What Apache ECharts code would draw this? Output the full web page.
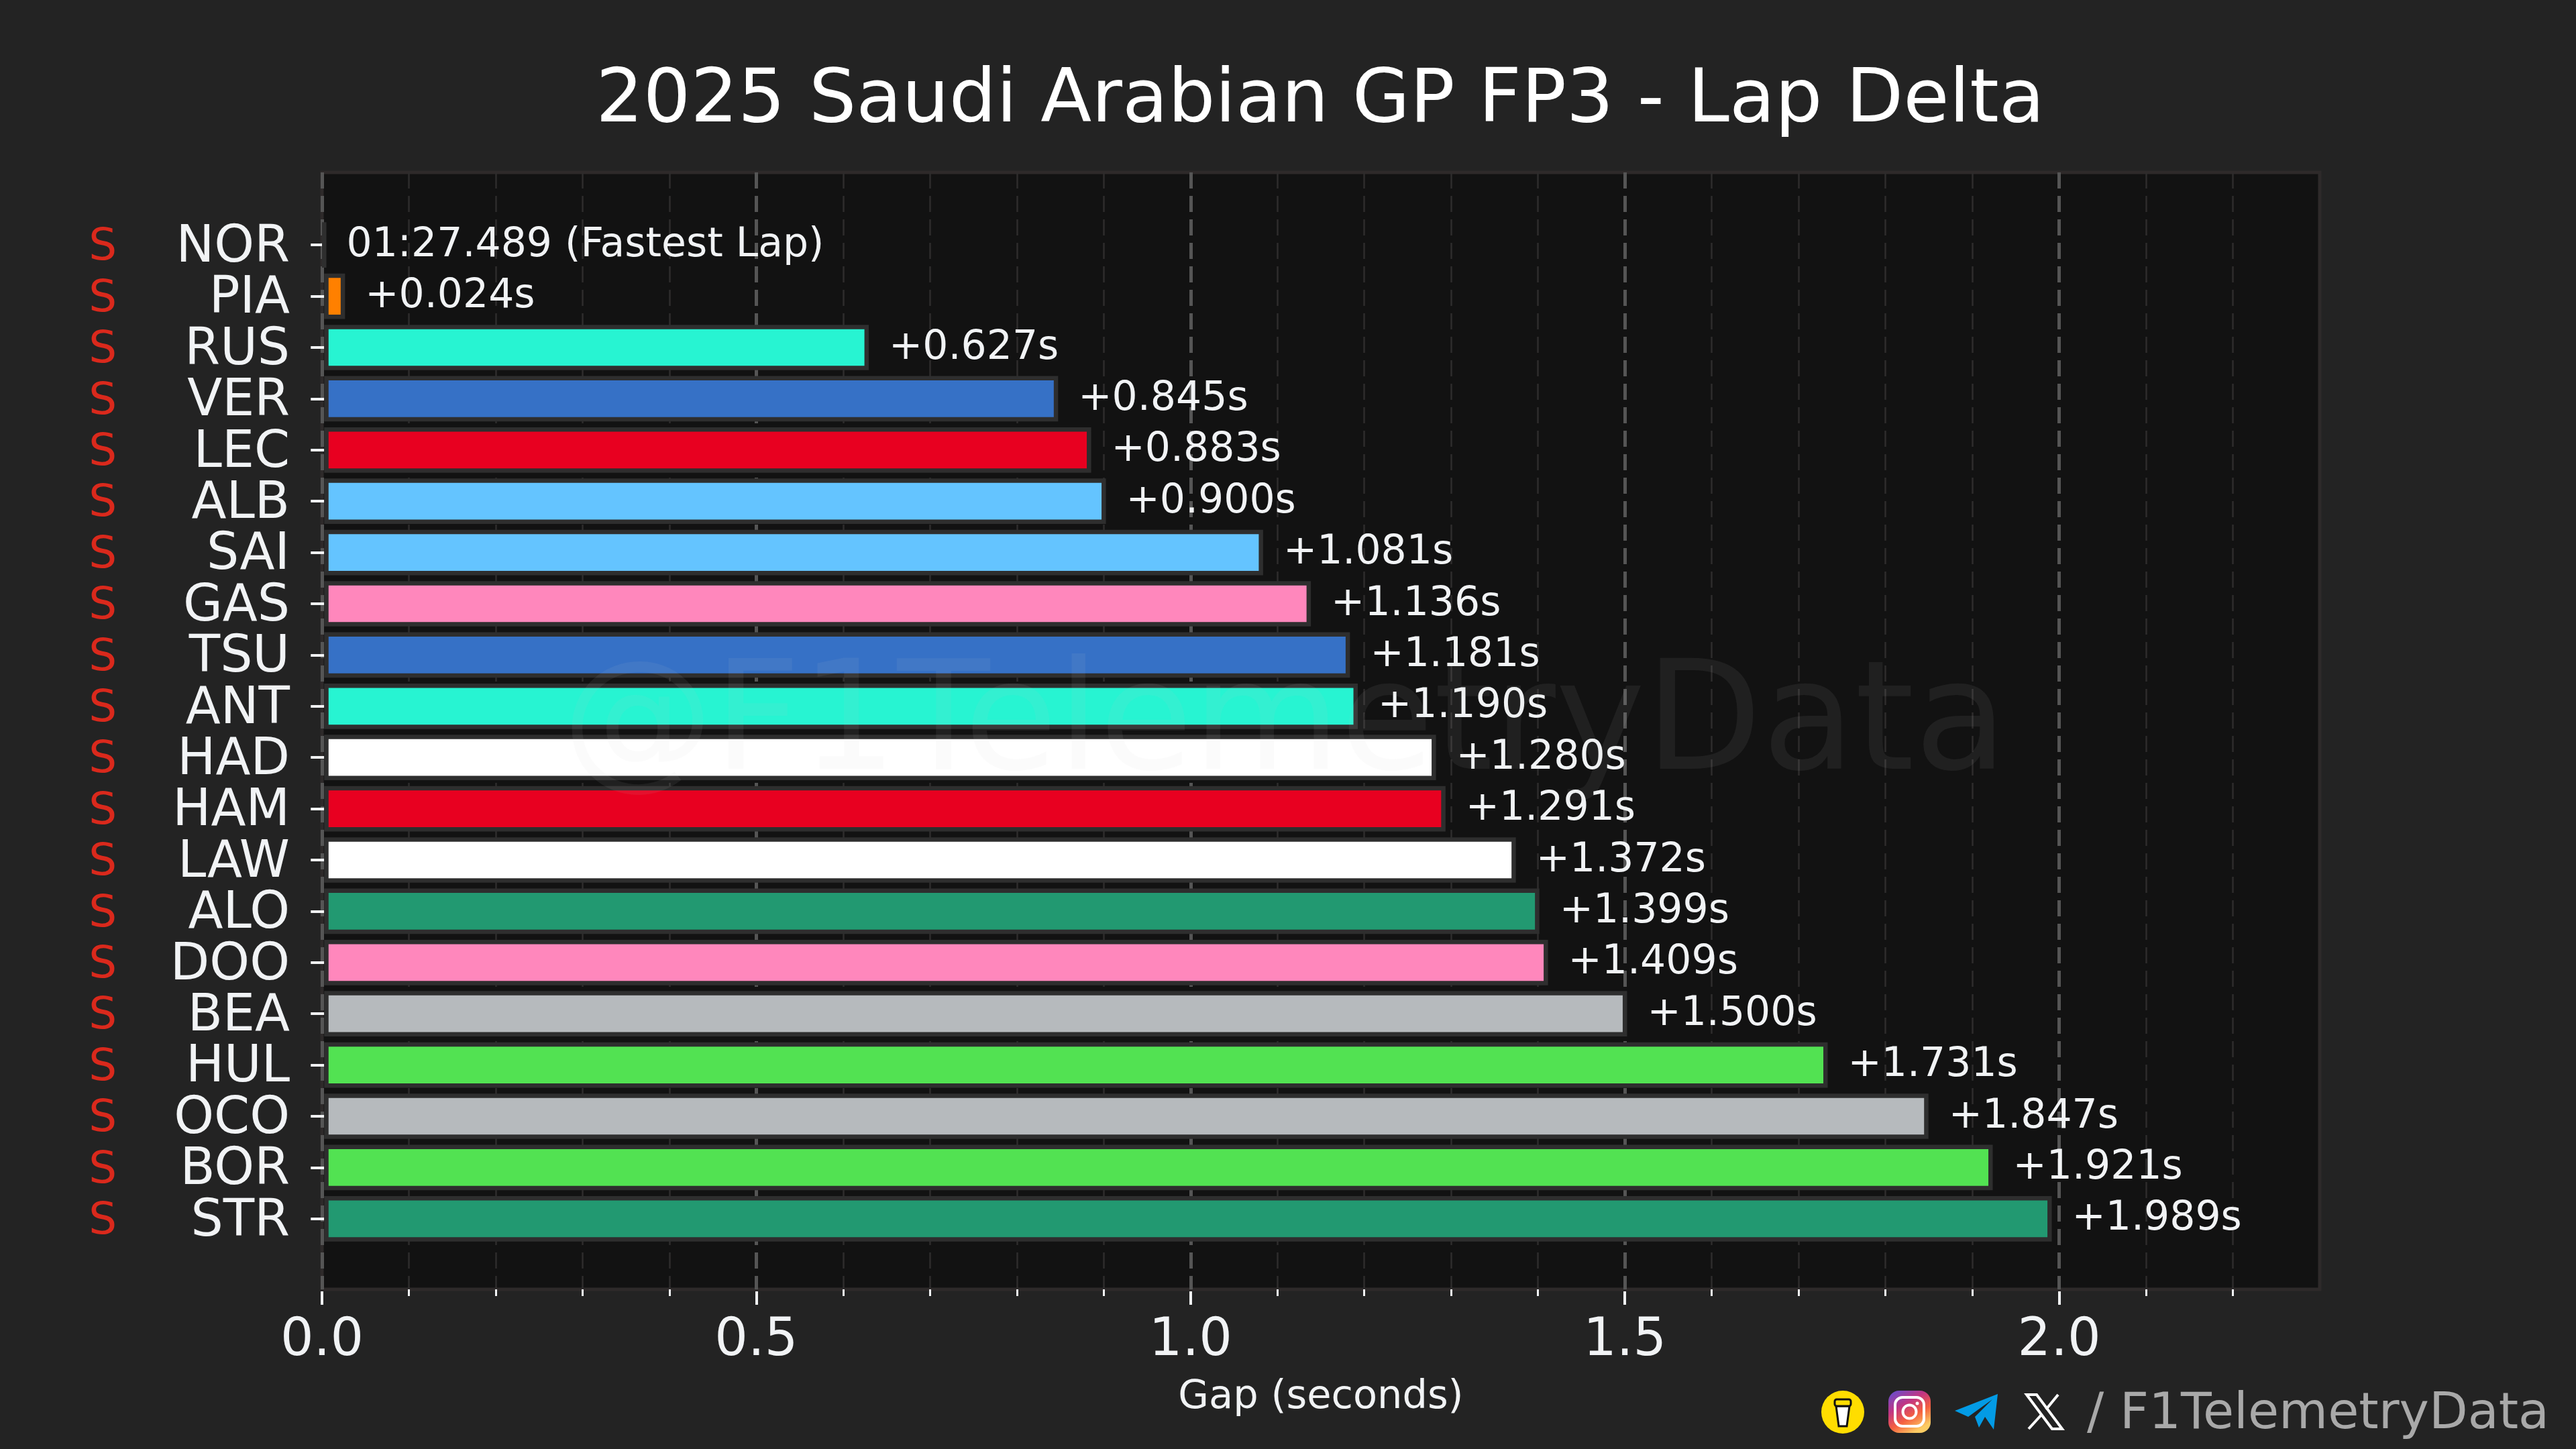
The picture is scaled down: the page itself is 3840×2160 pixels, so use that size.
<!DOCTYPE html>
<html>
<head>
<meta charset="utf-8">
<style>html,body{margin:0;padding:0;background:#232323}#c{width:3840px;height:2160px}</style>
<script src="https://cdn.jsdelivr.net/npm/echarts@6/dist/echarts.min.js"></script>
</head>
<body>
<div id="c"></div>
<script>
const drivers = ['NOR','PIA','RUS','VER','LEC','ALB','SAI','GAS','TSU','ANT','HAD','HAM','LAW','ALO','DOO','BEA','HUL','OCO','BOR','STR'];
const compounds = ['S','S','S','S','S','S','S','S','S','S','S','S','S','S','S','S','S','S','S','S'];
const gaps = [0,0.024,0.627,0.845,0.883,0.900,1.081,1.136,1.181,1.190,1.280,1.291,1.372,1.399,1.409,1.500,1.731,1.847,1.921,1.989];
const colors = ['#FF8000','#FF8000','#27F4D2','#3671C6','#E80020','#64C4FF','#64C4FF','#FF87BC','#3671C6','#27F4D2','#FFFFFF','#E80020','#FFFFFF','#229971','#FF87BC','#B6BABD','#52E252','#B6BABD','#52E252','#229971'];
const majorTicks = [0,0.5,1.0,1.5,2.0];
const minorTicks = [0.1,0.2,0.3,0.4,0.6,0.7,0.8,0.9,1.1,1.2,1.3,1.4,1.6,1.7,1.8,1.9,2.1,2.2];
const fastestLap = '01:27.489 (Fastest Lap)';
const titleText = '2025 Saudi Arabian GP FP3 - Lap Delta';
const xName = 'Gap (seconds)';
const handle = '/ F1TelemetryData';
const watermark = '@F1TelemetryData';

const FONT = '"DejaVu Sans"';
const INK = '#F1F3F5';
const xMin = 0, xMax = 2.3;

const chart = echarts.init(document.getElementById('c'), null, {renderer:'canvas'});
chart.setOption({
  animation:false,
  backgroundColor:'#232323',
  textStyle:{fontFamily:FONT},
  title:{
    text:titleText, left:1963, top:147, textAlign:'center', textVerticalAlign:'middle',
    textStyle:{color:'#FFFFFF', fontSize:111, fontWeight:'normal', fontFamily:FONT}
  },
  grid:[
    {left:480, right:382, top:257, bottom:238, show:true, backgroundColor:'#121212', borderColor:'#2E2A2A', borderWidth:5},
    {left:483.25, right:378.75, top:327, bottom:305}
  ],
  xAxis:[
    {gridIndex:0, type:'value', min:xMin, max:xMax, position:'bottom', offset:3,
     axisLine:{show:false},
     axisTick:{show:true, length:10, customValues:minorTicks, lineStyle:{color:'#F1F3F5', width:3}},
     axisLabel:{show:false},
     splitLine:{show:true, lineStyle:{color:'#2E2C2C', width:2.5, type:[24,11]}}},
    {gridIndex:0, type:'value', min:xMin, max:xMax, position:'bottom', offset:3,
     name:xName, nameLocation:'middle', nameGap:129,
     nameTextStyle:{color:INK, fontSize:59, fontFamily:FONT},
     axisLine:{show:false},
     axisTick:{show:true, length:20, customValues:majorTicks, lineStyle:{color:'#F1F3F5', width:4}},
     axisLabel:{show:true, customValues:majorTicks, margin:36, color:INK, fontSize:78, fontFamily:FONT,
       formatter:v=>v.toFixed(1)},
     splitLine:{show:true, lineStyle:{color:'#555555', width:5, type:[24,11]}}},
    {gridIndex:1, type:'value', min:xMin, max:xMax, show:false}
  ],
  yAxis:[
    {gridIndex:0, type:'value', min:0, max:1, show:false},
    {gridIndex:1, type:'category', data:drivers, inverse:true, position:'left', offset:5.25,
     axisLine:{show:false},
     axisTick:{show:true, alignWithLabel:true, length:20, lineStyle:{color:'#F1F3F5', width:4}},
     axisLabel:{margin:46, color:INK, fontSize:76, fontFamily:FONT, interval:0, verticalAlign:'top', lineHeight:10},
     splitLine:{show:false}},
    {gridIndex:1, type:'category', data:compounds, inverse:true, position:'left', offset:0,
     axisLine:{show:false}, axisTick:{show:false},
     axisLabel:{margin:309, color:'#DA291C', fontSize:66, fontFamily:FONT, interval:0, verticalAlign:'top', lineHeight:10},
     splitLine:{show:false}}
  ],
  series:[{
    type:'bar', xAxisIndex:2, yAxisIndex:1, barWidth:67.7,
    data:gaps.map((v,i)=>({value:v, itemStyle:{color:colors[i]}})),
    itemStyle:{borderColor:'#2E2E2E', borderWidth:6.5},
    label:{show:true, position:'right', distance:30, offset:[0,1], color:INK, fontSize:60, fontFamily:FONT,
      formatter:p=>p.dataIndex===0 ? fastestLap : '+'+p.value.toFixed(3)+'s'},
    z:5
  }],
  graphic:[
    {type:'text', z:100, x:1915, y:1087, style:{text:watermark, fill:'rgba(200,200,200,0.08)', font:'226px '+FONT, textAlign:'center', textVerticalAlign:'middle'}},
    {type:'text', z:100, x:3800, y:2110, style:{text:handle, fill:'#A9A9A9', font:'75px '+FONT, textAlign:'right', textVerticalAlign:'middle'}},
    {type:'circle', z:100, shape:{cx:2747, cy:2105, r:32}, style:{fill:'#FFDD00'}},
    {type:'polygon', z:101, shape:{points:[[2737,2096],[2741,2126],[2753,2126],[2757,2096]]}, style:{fill:'#FFFFFF', stroke:'#111111', lineWidth:3}},
    {type:'rect', z:101, shape:{x:2735, y:2086, width:24, height:10, r:3}, style:{fill:'#FFDD00', stroke:'#111111', lineWidth:3}},
    {type:'rect', z:100, shape:{x:2815, y:2073, width:63, height:63, r:16}, style:{fill:new echarts.graphic.LinearGradient(0,0,0.6,1,[{offset:0,color:'#5B51D8'},{offset:0.4,color:'#C13584'},{offset:0.7,color:'#F56040'},{offset:1,color:'#FCCC63'}])}},
    {type:'rect', z:101, shape:{x:2825, y:2083, width:43, height:43, r:11}, style:{fill:'none', stroke:'#FFFFFF', lineWidth:4}},
    {type:'circle', z:101, shape:{cx:2846.5, cy:2104.5, r:10}, style:{fill:'none', stroke:'#FFFFFF', lineWidth:4}},
    {type:'circle', z:101, shape:{cx:2858, cy:2092, r:2.5}, style:{fill:'#FFFFFF'}},
    {type:'polygon', z:100, shape:{points:[[2914,2103],[2978,2078],[2972,2131],[2959,2112],[2950,2128],[2944,2112],[2970,2086],[2934,2112]]}, style:{fill:'#039BE5'}},
    {type:'polygon', z:100, shape:{points:[[3021,2079],[3036,2079],[3074,2130],[3059,2130]]}, style:{fill:'none', stroke:'#FFFFFF', lineWidth:4}},
    {type:'line', z:100, shape:{x1:3068, y1:2079, x2:3050, y2:2101}, style:{stroke:'#FFFFFF', lineWidth:4}},
    {type:'line', z:100, shape:{x1:3044, y1:2108, x2:3024, y2:2130}, style:{stroke:'#FFFFFF', lineWidth:4}}
  ]
});
</script>
</body>
</html>
